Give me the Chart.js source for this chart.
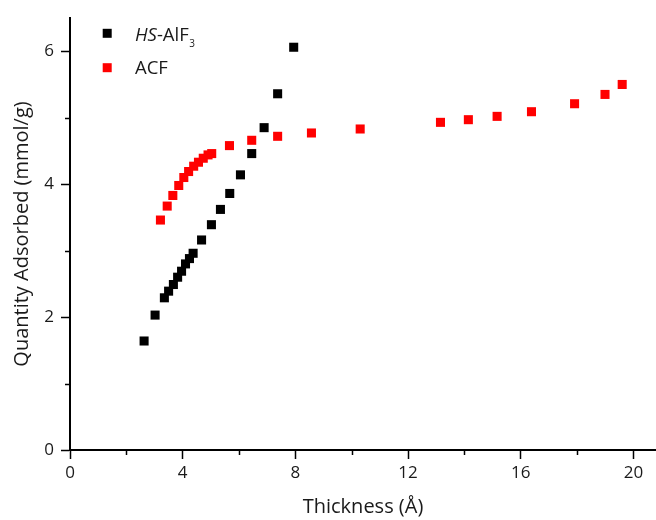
<!DOCTYPE html>
<html>
<head>
<meta charset="utf-8">
<script src="https://cdn.jsdelivr.net/npm/chart.js@4/dist/chart.umd.min.js"></script>
<style>
  html, body { margin: 0; padding: 0; background: #ffffff; }
  #wrap { width: 656px; height: 520px; position: relative; }
</style>
</head>
<body>
<div id="wrap"><canvas id="c" width="656" height="520"></canvas></div>
<script>
// Pore thickness (Å) vs. quantity adsorbed (mmol/g)
const hsLabel = 'HS-AlF3';
const hsThickness = [2.63, 3.02, 3.35, 3.50, 3.67, 3.82, 3.96, 4.10, 4.24, 4.37, 4.67, 5.02, 5.34, 5.67, 6.05, 6.45, 6.89, 7.37, 7.94];
const hsQuantity  = [1.64, 2.03, 2.29, 2.39, 2.49, 2.60, 2.69, 2.80, 2.88, 2.96, 3.16, 3.39, 3.62, 3.86, 4.14, 4.46, 4.85, 5.36, 6.06];

const acfLabel = 'ACF';
const acfThickness = [3.21, 3.45, 3.65, 3.86, 4.04, 4.21, 4.39, 4.56, 4.73, 4.90, 5.03, 5.66, 6.45, 7.37, 8.57, 10.30, 13.15, 14.14, 15.16, 16.38, 17.91, 18.99, 19.60];
const acfQuantity  = [3.46, 3.67, 3.83, 3.98, 4.10, 4.19, 4.27, 4.33, 4.39, 4.44, 4.46, 4.58, 4.66, 4.72, 4.77, 4.83, 4.93, 4.97, 5.02, 5.09, 5.21, 5.35, 5.50];

const xMajorTicks = [0, 4, 8, 12, 16, 20];
const xMinorTicks = [2, 6, 10, 14, 18];
const yMajorTicks = [0, 2, 4, 6];
const yMinorTicks = [1, 3, 5];

const FONT = '"Open Sans", "DejaVu Sans", sans-serif';
const TEXT = '#1a1a1a';

function toPoints(xs, ys) { return xs.map((x, i) => ({ x: x, y: ys[i] })); }

function setTicks(major, minor) {
  return function (scale) {
    scale.ticks = major.concat(minor).sort((a, b) => a - b).map(v => ({ value: v }));
  };
}

// Short minor tick marks on both axes
const minorTicksPlugin = {
  id: 'minorTicks',
  afterDraw(chart) {
    const ctx = chart.ctx;
    const xs = chart.scales.x, ys = chart.scales.y;
    const area = chart.chartArea;
    ctx.save();
    ctx.strokeStyle = '#000';
    ctx.lineWidth = 1.5;
    ctx.beginPath();
    xMinorTicks.forEach(v => {
      const px = Math.round(xs.getPixelForValue(v)) + 0.5;
      ctx.moveTo(px, area.bottom);
      ctx.lineTo(px, area.bottom + 5);
    });
    yMinorTicks.forEach(v => {
      const py = Math.round(ys.getPixelForValue(v)) + 0.5;
      ctx.moveTo(area.left, py);
      ctx.lineTo(area.left - 5, py);
    });
    ctx.stroke();
    ctx.restore();
  }
};

// Legend with italic prefix and subscript for the first series
const legendPlugin = {
  id: 'richLegend',
  afterDraw(chart) {
    const ctx = chart.ctx;
    const ds = chart.data.datasets;
    const rows = [
      { y: 33.3, base: 40.5 },
      { y: 67.7, base: 74.3 }
    ];
    ctx.save();
    ds.forEach((d, i) => {
      const r = rows[i];
      ctx.fillStyle = d.backgroundColor;
      ctx.fillRect(102.7, r.y - 4.5, 9, 9);
      ctx.fillStyle = TEXT;
      ctx.textBaseline = 'alphabetic';
      ctx.textAlign = 'left';
      let x = 135;
      if (d.label === hsLabel) {
        ctx.font = 'italic 18.5px ' + FONT;
        ctx.fillText('HS', x, r.base);
        x += ctx.measureText('HS').width;
        ctx.font = '18.5px ' + FONT;
        ctx.fillText('-AlF', x, r.base);
        x += ctx.measureText('-AlF').width + 0.5;
        ctx.font = '10px ' + FONT;
        ctx.fillText('3', x, r.base + 6.5);
      } else {
        ctx.font = '18.5px ' + FONT;
        ctx.fillText(d.label, x, r.base);
      }
    });
    ctx.restore();
  }
};

const pointStyleCommon = {
  showLine: false,
  pointStyle: 'rect',
  pointRadius: 6.4,
  pointHoverRadius: 6.4,
  pointBorderWidth: 0,
  borderWidth: 0
};

new Chart(document.getElementById('c'), {
  type: 'scatter',
  data: {
    datasets: [
      Object.assign({
        label: hsLabel,
        data: toPoints(hsThickness, hsQuantity),
        backgroundColor: '#000000',
        borderColor: '#000000'
      }, pointStyleCommon),
      Object.assign({
        label: acfLabel,
        data: toPoints(acfThickness, acfQuantity),
        backgroundColor: '#ff0000',
        borderColor: '#ff0000'
      }, pointStyleCommon)
    ]
  },
  options: {
    responsive: false,
    animation: false,
    events: [],
    layout: { autoPadding: false, padding: { top: 18, right: 0, bottom: 0, left: 0 } },
    plugins: {
      legend: { display: false },
      tooltip: { enabled: false }
    },
    scales: {
      x: {
        type: 'linear',
        min: 0,
        max: 20.8,
        afterBuildTicks: setTicks(xMajorTicks, xMinorTicks),
        afterFit(scale) {
          scale.height = 70;
          scale.paddingLeft = 0;
          scale.paddingRight = 0;
        },
        border: { display: true, color: '#000', width: 2 },
        grid: {
          drawOnChartArea: false,
          drawTicks: true,
          tickLength: 9,
          tickWidth: 1.5,
          tickColor: ctx => (ctx.tick && xMajorTicks.includes(ctx.tick.value)) ? '#000' : 'rgba(0,0,0,0)'
        },
        ticks: {
          autoSkip: false,
          maxRotation: 0,
          padding: 4,
          color: TEXT,
          font: { family: FONT, size: 17 },
          callback: v => xMajorTicks.includes(v) ? String(v) : ''
        },
        title: {
          display: true,
          text: 'Thickness (Å)',
          color: TEXT,
          font: { family: FONT, size: 20 },
          padding: { top: 1, bottom: 1 }
        }
      },
      y: {
        type: 'linear',
        min: 0,
        max: 6.5,
        afterBuildTicks: setTicks(yMajorTicks, yMinorTicks),
        afterFit(scale) {
          scale.width = 70;
          scale.paddingTop = 0;
          scale.paddingBottom = 0;
        },
        border: { display: true, color: '#000', width: 2 },
        grid: {
          drawOnChartArea: false,
          drawTicks: true,
          tickLength: 9,
          tickWidth: 1.5,
          tickColor: ctx => (ctx.tick && yMajorTicks.includes(ctx.tick.value)) ? '#000' : 'rgba(0,0,0,0)'
        },
        ticks: {
          autoSkip: false,
          padding: 7,
          color: TEXT,
          font: { family: FONT, size: 17 },
          callback: v => yMajorTicks.includes(v) ? String(v) : ''
        },
        title: {
          display: true,
          text: 'Quantity Adsorbed (mmol/g)',
          color: TEXT,
          font: { family: FONT, size: 20 },
          padding: { top: 10, bottom: 1 }
        }
      }
    }
  },
  plugins: [minorTicksPlugin, legendPlugin]
});
</script>
</body>
</html>
